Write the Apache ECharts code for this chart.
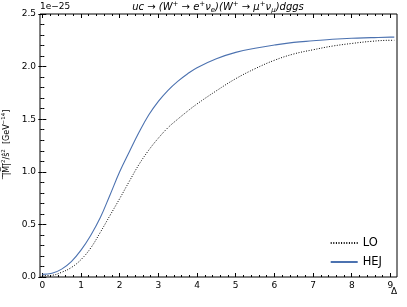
<!DOCTYPE html>
<html>
<head>
<meta charset="utf-8">
<script src="https://cdn.jsdelivr.net/npm/echarts@6/dist/echarts.min.js"></script>
<style>
  html, body { margin: 0; padding: 0; background: #fff; }
  #chart { width: 407px; height: 307px; }
</style>
</head>
<body>
<div id="chart"></div>
<script>
// Δ values (x) and |M|^2/s^2 in units of 1e-25
const delta = [0, 0.25, 0.5, 0.75, 1, 1.25, 1.5, 1.75, 2, 2.25, 2.5, 2.75, 3, 3.25, 3.5, 3.75, 4, 4.5, 5, 5.5, 6, 6.5, 7, 7.5, 8, 8.5, 9, 9.1]
const hej = [0.025, 0.035, 0.075, 0.146, 0.255, 0.395, 0.565, 0.78, 1.00, 1.19, 1.375, 1.54, 1.67, 1.775, 1.86, 1.93, 1.99, 2.075, 2.135, 2.175, 2.205, 2.23, 2.245, 2.26, 2.27, 2.275, 2.28, 2.28]
const lo = [0.012, 0.016, 0.045, 0.09, 0.165, 0.275, 0.425, 0.585, 0.745, 0.91, 1.07, 1.205, 1.32, 1.42, 1.50, 1.575, 1.645, 1.77, 1.885, 1.98, 2.06, 2.12, 2.16, 2.195, 2.22, 2.24, 2.25, 2.25]
const xTicks = [0, 1, 2, 3, 4, 5, 6, 7, 8, 9]

const xMinor = []
for (let i = 0; i <= 46; i++) {
  if (i % 5 !== 0) xMinor.push(+(i * 0.2).toFixed(1))
}

const font = 'DejaVu Sans'
const X_MIN = -0.06
const X_MAX = 9.17

const chart = echarts.init(document.getElementById('chart'))

const tickAxis = (position, values, len, labels) => ({
  type: 'value',
  min: X_MIN,
  max: X_MAX,
  position,
  axisLine: { show: false },
  splitLine: { show: false },
  axisTick: { inside: true, length: len, customValues: values, lineStyle: { color: '#000', width: 1 } },
  axisLabel: labels
    ? { customValues: values, fontSize: 9, color: '#000', fontFamily: font, margin: 4 }
    : { show: false }
})

const yAxisBase = (position, labels) => ({
  type: 'value',
  min: 0,
  max: 2.5,
  interval: 0.5,
  position,
  axisLine: { show: false },
  splitLine: { show: false },
  axisTick: { inside: true, length: 4, lineStyle: { color: '#000' } },
  minorTick: { show: true, splitNumber: 5, length: 2, lineStyle: { color: '#000' } },
  axisLabel: labels
    ? { fontSize: 9, color: '#000', fontFamily: font, margin: 4, formatter: v => v.toFixed(1) }
    : { show: false }
})

const yLeft = yAxisBase('left', true)
yLeft.name = '{t|\u0305|\u0305M\u0305|\u0305}{sup|2}{t|/ŝ}{sup|2}{t|  [GeV}{sup|−14}{t|]}'
yLeft.nameLocation = 'middle'
yLeft.nameRotate = 90
yLeft.nameGap = 24
yLeft.nameTextStyle = {
  fontSize: 8,
  color: '#000',
  fontFamily: font,
  padding: [0, 0, 0, 6],
  rich: {
    t: { fontSize: 8, color: '#000', fontFamily: font, lineHeight: 12, verticalAlign: 'middle' },
    sup: { fontSize: 5.5, verticalAlign: 'top', color: '#000', fontFamily: font, lineHeight: 12 }
  }
}

const option = {
  animation: false,
  title: {
    text: '{i|uc → (W}{s|+}{i| → e}{s|+}{i|ν}{b|e}{i|)(W}{s|+}{i| → μ}{s|+}{i|ν}{b|μ}{i|)dggs}',
    left: 218,
    textAlign: 'center',
    top: 1,
    padding: 0,
    textStyle: {
      fontWeight: 'normal',
      rich: {
        i: { fontSize: 10, fontStyle: 'italic', fontWeight: 'normal', fontFamily: font, color: '#000', lineHeight: 13, verticalAlign: 'middle' },
        s: { fontSize: 7, fontStyle: 'italic', fontWeight: 'normal', fontFamily: font, color: '#000', verticalAlign: 'top', lineHeight: 13 },
        b: { fontSize: 7, fontStyle: 'italic', fontWeight: 'normal', fontFamily: font, color: '#000', verticalAlign: 'bottom', lineHeight: 13 }
      }
    }
  },
  graphic: [
    { type: 'text', left: 40, top: 2, style: { text: '1e−25', fontSize: 9, fontFamily: font, fill: '#000' } },
    { type: 'text', left: 391, top: 287, style: { text: 'Δ', fontSize: 9, fontFamily: font, fill: '#000' } }
  ],
  grid: {
    left: 40, right: 10, top: 14, bottom: 30,
    outerBoundsMode: 'none',
    containLabel: false,
    show: true, borderColor: '#000', borderWidth: 1, backgroundColor: 'transparent'
  },
  legend: {
    orient: 'vertical',
    right: 20,
    top: 232,
    itemWidth: 27,
    itemHeight: 14,
    itemGap: 7,
    data: ['LO', 'HEJ'],
    itemStyle: { opacity: 0 },
    textStyle: { fontSize: 11.5, color: '#000', fontFamily: font }
  },
  xAxis: [
    tickAxis('bottom', xTicks, 4, true),
    tickAxis('bottom', xMinor, 2, false),
    tickAxis('top', xTicks, 4, false),
    tickAxis('top', xMinor, 2, false)
  ],
  yAxis: [yLeft, yAxisBase('right', false)],
  series: [
    {
      name: 'LO',
      type: 'line',
      data: delta.map((d, i) => [d, lo[i]]),
      symbol: 'none',
      smooth: 0.4,
      lineStyle: { color: '#000', width: 1, type: [1, 1.6] },
      itemStyle: { color: '#000' }
    },
    {
      name: 'HEJ',
      type: 'line',
      data: delta.map((d, i) => [d, hej[i]]),
      symbol: 'none',
      smooth: 0.4,
      lineStyle: { color: '#4c72b0', width: 1.1 },
      itemStyle: { color: '#4c72b0' }
    }
  ]
}

chart.setOption(option)
</script>
</body>
</html>
